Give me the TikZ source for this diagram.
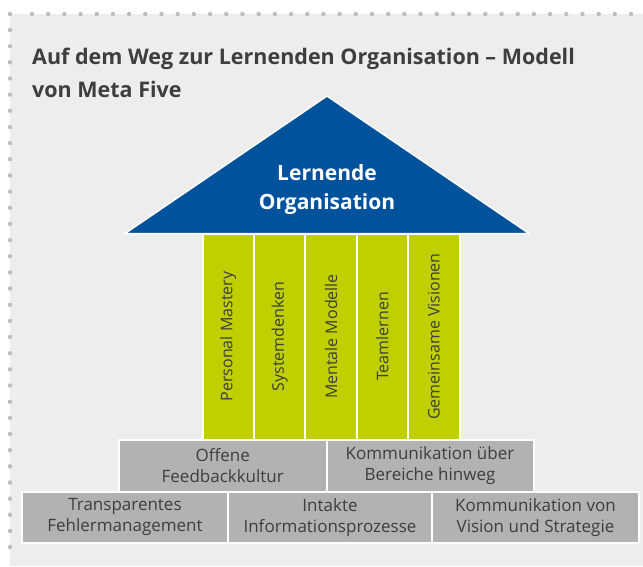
\documentclass[tikz,border=0pt]{standalone}
\usepackage{fontspec}
\setmainfont{Open Sans}
\usetikzlibrary{positioning}
\definecolor{panelgray}{HTML}{EDEDED}
\definecolor{dotgray}{HTML}{BDBDBD}
\definecolor{roofblue}{HTML}{00529C}
\definecolor{pillargreen}{HTML}{BFCF00}
\definecolor{boxgray}{HTML}{B1B2B4}
\definecolor{textgray}{HTML}{3E3E3E}
\tikzset{
  pillar/.style={fill=pillargreen, draw=white, line width=2pt, outer sep=0pt,
    minimum width=51.4pt, minimum height=206pt, inner sep=0pt, text=textgray,
    font=\fontsize{16}{18}\selectfont},
  basebox/.style={fill=boxgray, draw=white, line width=2pt, outer sep=0pt,
    minimum height=51.5pt, inner sep=0pt, align=center, text=textgray,
    font=\fontsize{17}{21}\selectfont},
  dot/.style={fill=dotgray, draw=none}
}

\begin{document}
\begin{tikzpicture}[x=1pt, y=-1pt]
\useasboundingbox (0,0) rectangle (643,566);
\fill[panelgray] (10,14) rectangle (643,566);
% dotted frame
\fill[dot] (10,14) circle (2.2);
\foreach \i in {0,...,37} \fill[dot] (32+\i*16.19,14) circle (2.2);
\foreach \i in {0,...,32} \fill[dot] (10,30+\i*16.16) circle (2.2);

\node[anchor=base west, align=left, text=textgray, inner sep=0pt,
  font=\bfseries\fontsize{21.5}{33}\selectfont] (title) at (32,97)
  {Auf dem Weg zur Lernenden Organisation -- Modell\\von Meta Five};

% roof
\draw[fill=roofblue, draw=white, line width=1.5pt]
  (125,233.5) -- (327,96) -- (529,233.5) -- cycle;
\node[align=center, text=white, font=\bfseries\fontsize{21}{29}\selectfont] (roof) at (327,190)
  {Lernende\\Organisation};

% pillars
\foreach \name/\txt [count=\k from 0] in {pa/Personal Mastery, pb/Systemdenken,
    pc/Mentale Modelle, pd/Teamlernen, pe/Gemeinsame Visionen}
  \node[pillar] (\name) at (202.5+25.7+\k*51.4,336.5) {\rotatebox{90}{\txt}};

% middle row
\node[basebox, minimum width=207.5pt] (offen) at (222.75,465.75) {Offene\\Feedbackkultur};
\node[basebox, minimum width=207pt] (komber) at (430,465.75) {Kommunikation über\\Bereiche hinweg};

% bottom row
\node[basebox, minimum width=206pt] (fehler) at (125,517.25) {Transparentes\\Fehlermanagement};
\node[basebox, minimum width=204pt] (info) at (330,517.25) {Intakte\\Informationsprozesse};
\node[basebox, minimum width=207pt] (vision) at (535.5,517.25) {Kommunikation von\\Vision und Strategie};
\end{tikzpicture}
\end{document}
